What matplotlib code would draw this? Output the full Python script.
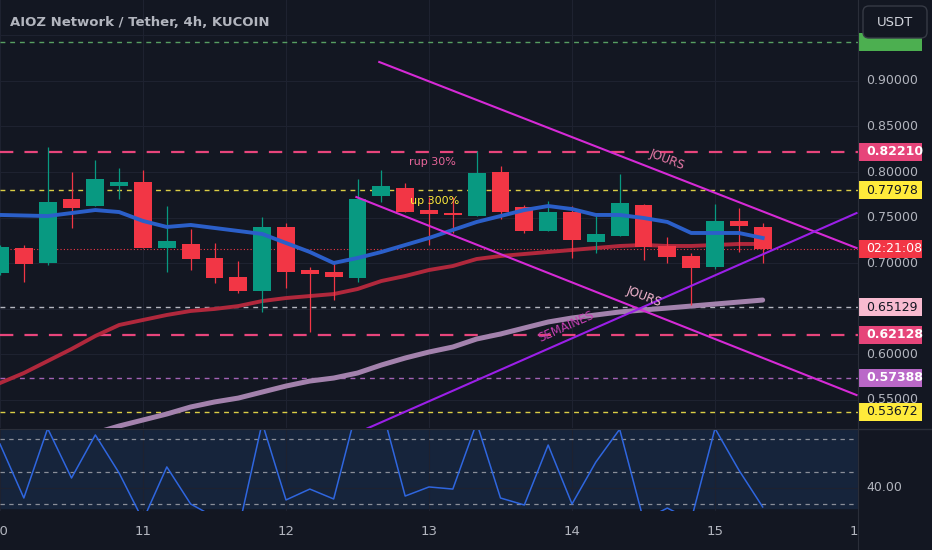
import numpy as np
import matplotlib.pyplot as plt
from matplotlib.patches import Rectangle, FancyBboxPatch
from matplotlib.transforms import blended_transform_factory

plt.rcParams['font.family'] = ['DejaVu Sans']

BG = '#131722'
GRID = '#1e2230'
SEP = '#2a2e39'
TXT = '#b2b5be'
UP = '#089981'
DOWN = '#f23645'

# 4h candles starting on the 10th, 00:00
first_day = 10
bars_per_day = 6

opens = [0.6890, 0.7165, 0.7000, 0.7703, 0.7626, 0.7846, 0.7890, 0.7165, 0.7209,
         0.7055, 0.6846, 0.6692, 0.7396, 0.6923, 0.6901, 0.6835, 0.7736, 0.7824,
         0.7582, 0.7549, 0.7516, 0.8000, 0.7615, 0.7352, 0.7560, 0.7231, 0.7297,
         0.7637, 0.7187, 0.7077, 0.6956, 0.7462, 0.7396]
highs = [0.7198, 0.7198, 0.8275, 0.8000, 0.8132, 0.8044, 0.8022, 0.7626, 0.7374,
         0.7220, 0.7022, 0.7506, 0.7440, 0.6956, 0.7011, 0.7923, 0.8022, 0.7879,
         0.7725, 0.7725, 0.8231, 0.8066, 0.7637, 0.7681, 0.7626, 0.7516, 0.7978,
         0.7648, 0.7286, 0.7110, 0.7648, 0.7604, 0.7440]
lows = [0.6868, 0.6791, 0.6978, 0.7385, 0.7626, 0.7703, 0.7160, 0.6901, 0.6923,
        0.6780, 0.6670, 0.6462, 0.6725, 0.6242, 0.6593, 0.6791, 0.7670, 0.7560,
        0.7198, 0.7330, 0.7516, 0.7484, 0.7330, 0.7352, 0.7055, 0.7110, 0.7297,
        0.7033, 0.7000, 0.6538, 0.6934, 0.7121, 0.7000]
closes = [0.7176, 0.6989, 0.7670, 0.7604, 0.7923, 0.7890, 0.7165, 0.7242, 0.7044,
          0.6835, 0.6692, 0.7396, 0.6901, 0.6879, 0.6846, 0.7703, 0.7846, 0.7560,
          0.7538, 0.7527, 0.7989, 0.7560, 0.7352, 0.7560, 0.7253, 0.7319, 0.7659,
          0.7176, 0.7066, 0.6945, 0.7462, 0.7407, 0.7155]

ema_fast = [0.7528, 0.7522, 0.7516, 0.7549, 0.7582, 0.7560, 0.7462, 0.7396, 0.7418,
            0.7385, 0.7352, 0.7319, 0.7220, 0.7121, 0.7000, 0.7055, 0.7121, 0.7198,
            0.7275, 0.7363, 0.7451, 0.7516, 0.7582, 0.7626, 0.7593, 0.7528, 0.7528,
            0.7495, 0.7451, 0.7330, 0.7330, 0.7330, 0.7275]
ema_slow = [0.5681, 0.5791, 0.5923, 0.6055, 0.6198, 0.6319, 0.6374, 0.6429, 0.6473,
            0.6495, 0.6527, 0.6582, 0.6615, 0.6637, 0.6659, 0.6714, 0.6802, 0.6857,
            0.6923, 0.6967, 0.7044, 0.7077, 0.7099, 0.7121, 0.7143, 0.7165, 0.7187,
            0.7198, 0.7187, 0.7187, 0.7198, 0.7209, 0.7209]
# weekly average, first value on candle 3
ma_week = [0.5055, 0.5132, 0.5209, 0.5275, 0.5341, 0.5418, 0.5473, 0.5516, 0.5582,
           0.5648, 0.5703, 0.5736, 0.5791, 0.5879, 0.5956, 0.6022, 0.6077, 0.6165,
           0.6220, 0.6286, 0.6352, 0.6396, 0.6429, 0.6462, 0.6484, 0.6505, 0.6527,
           0.6549, 0.6571, 0.6593]
week_start = 3

rsi = [66.9, 33.7, 76.5, 46.0, 72.5, 49.0, 20.0, 52.8, 30.0, 22.0, 14.0, 80.0,
       32.5, 39.2, 33.1, 90.0, 90.0, 34.9, 40.5, 39.2, 80.0, 33.7, 29.4, 66.3,
       30.0, 55.8, 76.0, 20.2, 27.5, 20.2, 76.5, 50.9, 28.2]

# horizontal levels drawn on the chart
level_prices = [0.94286, 0.82210, 0.77978, 0.65129, 0.62128, 0.57388, 0.53672]
level_colors = ['#5faf6a', '#e8457c', '#f2e34a', '#c8cad2', '#e8457c', '#b36bc6', '#f2e34a']
label_bg = ['#4caf50', '#e6457a', '#ffeb3b', '#f8bbd0', '#e6457a', '#ba68c8', '#ffeb3b']
label_fg = [None, 'white', '#131722', '#131722', 'white', 'white', '#131722']
label_bold = [False, True, False, False, True, True, False]

# trend lines (day, price)
jours_top = ([12.652, 15.99], [0.9209, 0.7165])
jours_low = ([12.492, 15.99], [0.7725, 0.5549])
semaines = ([12.40, 15.99], [0.5066, 0.7549])

price_ticks = [0.55, 0.60, 0.65, 0.70, 0.75, 0.80, 0.85, 0.90, 0.95]
day_ticks = [10, 11, 12, 13, 14, 15, 16]
countdown = '02:21:08'

W, H = 932, 550
fig = plt.figure(figsize=(W / 100, H / 100), dpi=100, facecolor=BG)
pw = 858 / W
ax = fig.add_axes([0, 1 - 428 / H, pw, 428 / H], facecolor=BG)
ax_osc = fig.add_axes([0, 1 - 511 / H, pw, 82 / H], facecolor=BG)
ax_r = fig.add_axes([pw, 0, 1 - pw, 1], facecolor=BG)
ax_r.set_zorder(5)

days = first_day + np.arange(len(opens)) / bars_per_day
o = np.array(opens)
c = np.array(closes)
cols = [UP if cc >= oo else DOWN for oo, cc in zip(o, c)]

xlim = (10.048, 15.99)
ylim = (0.5187, 0.9890)

# main price panel
ax.set_xlim(*xlim)
ax.set_ylim(*ylim)
ax.set_xticks(day_ticks)
ax.set_yticks(price_ticks)
ax.tick_params(length=0, labelbottom=False, labelleft=False)
ax.grid(color=GRID, lw=0.8)
ax.set_axisbelow(True)
for s in ax.spines.values():
    s.set_visible(False)

for p, col in zip(level_prices, level_colors):
    if col == '#e8457c':
        ax.axhline(p, color=col, lw=1.6, dashes=(6, 5), zorder=1)
    else:
        ax.axhline(p, color=col, lw=1.0, dashes=(3.5, 3.5), zorder=1, alpha=0.9)
ax.axhline(closes[-1], color=DOWN, lw=0.8, dashes=(1, 2), zorder=1)

ax.plot(days[week_start:], ma_week, color='#a382ad', lw=3.6, solid_capstyle='round', zorder=2)
ax.plot(days, ema_slow, color='#b0283c', lw=2.8, zorder=2)
ax.vlines(days, lows, highs, colors=cols, lw=0.9, zorder=3)
ax.bar(days, np.maximum(np.abs(c - o), 0.0012), bottom=np.minimum(o, c), width=0.125,
       color=cols, zorder=3)
ax.plot(days, ema_fast, color='#2b5fc9', lw=2.8, zorder=4)

ax.plot(*jours_top, color='#d62ad6', lw=1.5, zorder=5)
ax.plot(*jours_low, color='#d62ad6', lw=1.5, zorder=5)
ax.plot(*semaines, color='#9b1fe8', lw=1.5, zorder=5)

ax.text(13.026, 0.811, 'rup 30%', color='#e7659a', fontsize=8, ha='center', va='center')
ax.text(13.04, 0.768, 'up 300%', color='#ffeb3b', fontsize=8, ha='center', va='center',
        zorder=6)
ax.text(14.667, 0.8132, 'JOURS', color='#e879a8', fontsize=8.5, ha='center', va='center',
        rotation=-21)
ax.text(14.501, 0.6637, 'JOURS', color='#f3b6cf', fontsize=8.5, ha='center', va='center',
        rotation=-21, zorder=6)
ax.text(13.96, 0.6297, 'SEMAINES', color='#c23fb0', fontsize=8.5, ha='center', va='center',
        rotation=24, zorder=6)

# oscillator panel
ax_osc.set_xlim(*xlim)
ax_osc.set_ylim(25.7, 76.15)
ax_osc.axhspan(27.5, 77, color='#16243b', zorder=0)
ax_osc.set_xticks(day_ticks)
ax_osc.set_xticklabels([str(d) for d in day_ticks])
ax_osc.set_yticks([40])
ax_osc.tick_params(axis='x', colors=TXT, labelsize=9.5, length=0, pad=10)
ax_osc.tick_params(axis='y', length=0, labelleft=False)
ax_osc.grid(color=GRID, lw=0.8)
ax_osc.set_axisbelow(True)
for lvl in [30, 50, 70]:
    ax_osc.axhline(lvl, color='#8a8e99', lw=0.9, dashes=(3.5, 3.5), zorder=1)
ax_osc.plot(days, rsi, color='#2f66df', lw=1.1, zorder=2)
for name, s in ax_osc.spines.items():
    s.set_visible(name == 'top')
ax_osc.spines['top'].set_color(SEP)

# price scale on the right
ax_r.set_xlim(0, 1)
ax_r.set_ylim(0, 1)
ax_r.set_xticks([])
ax_r.set_yticks([])
for name, s in ax_r.spines.items():
    s.set_visible(name == 'left')
ax_r.spines['left'].set_color(SEP)
ax_r.axhline(1 - 429 / H, color=SEP, lw=1)

tr = blended_transform_factory(ax_r.transAxes, ax.transData)
tr_osc = blended_transform_factory(ax_r.transAxes, ax_osc.transData)
box_h = (ylim[1] - ylim[0]) * 18 / 428
box_w = 64 / 74
tx = 8 / 74

for p in price_ticks:
    ax_r.text(tx, p, f'{p:.5f}', transform=tr, color=TXT, fontsize=9, va='center', zorder=1)
ax_r.text(tx, 40, '40.00', transform=tr_osc, color=TXT, fontsize=9, va='center')

for p, bg, fg, b in zip(level_prices, label_bg, label_fg, label_bold):
    ax_r.add_patch(Rectangle((0, p - box_h / 2), box_w, box_h, transform=tr,
                             facecolor=bg, edgecolor='none', zorder=2))
    if fg is None:
        continue  # label hidden under the currency button
    ax_r.text(tx, p, f'{p:.5f}', transform=tr, color=fg, fontsize=9, va='center',
              fontweight='bold' if b else 'normal', zorder=3)

ax_r.add_patch(Rectangle((0, closes[-1] - box_h / 2), box_w, box_h, transform=tr,
                         facecolor=DOWN, edgecolor='none', zorder=2))
ax_r.text(tx, closes[-1], countdown, transform=tr, color='white', fontsize=9,
          va='center', zorder=3)

ax_r.add_patch(FancyBboxPatch((5 / 74, 1 - 38 / H), 64 / 74, 32 / H,
                              boxstyle='round,pad=0,rounding_size=0.08',
                              mutation_aspect=74 / H, facecolor=BG,
                              edgecolor='#363a45', lw=1, zorder=4))
ax_r.text(37 / 74, 1 - 22 / H, 'USDT', color='#d1d4dc', fontsize=9.5,
          ha='center', va='center', zorder=5)

fig.text(10 / W, 1 - 23 / H, 'AIOZ Network / Tether, 4h, KUCOIN', color=TXT,
         fontsize=9.5, fontweight='bold', va='center')

fig.savefig('out.png', dpi=100, facecolor=BG)
